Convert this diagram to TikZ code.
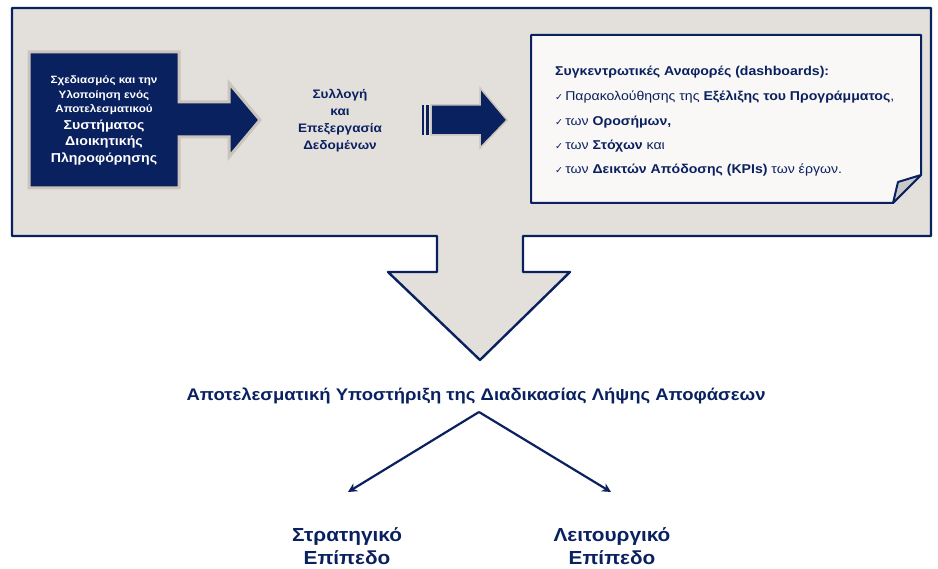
\documentclass[tikz,border=0pt]{standalone}
\usepackage{fontspec}
\setmainfont[FakeStretch=1.1]{Liberation Sans}
\newfontfamily\dejavu{DejaVu Sans}
\usetikzlibrary{arrows.meta}
\definecolor{navy}{RGB}{10,33,96}
\definecolor{panelgray}{RGB}{227,224,220}
\definecolor{tanedge}{RGB}{203,196,188}
\definecolor{notefill}{RGB}{249,248,246}
\definecolor{flapgray}{RGB}{200,200,200}
\tikzset{
  outline/.style={draw=navy,line width=2.4pt,line join=round},
  whitetxt/.style={text=white,font=\bfseries\fontsize{10.6}{12}\selectfont,inner sep=0pt},
  whitebig/.style={text=white,font=\bfseries\fontsize{12.9}{15}\selectfont,inner sep=0pt},
  navytxt/.style={text=navy,font=\bfseries\fontsize{12.3}{17}\selectfont,align=center,inner sep=0pt},
  notetxt/.style={text=navy,font=\fontsize{12.8}{14}\selectfont,anchor=west,inner sep=0pt},
  maintxt/.style={text=navy,font=\bfseries\fontsize{16.8}{19}\selectfont,inner sep=0pt},
  leveltxt/.style={text=navy,font=\bfseries\fontsize{18.9}{23}\selectfont,align=center,inner sep=0pt},
  branch/.style={draw=navy,line width=2.2pt,-{Stealth[length=9pt,width=9pt]}},
}
\newcommand{\chk}{{\dejavu\fontsize{9.5}{11}\selectfont ✓}\,}
\begin{document}
\begin{tikzpicture}[x=1pt,y=-1pt]
\useasboundingbox (0,0) rectangle (938,569);
% big gray panel with down arrow
\path[outline,fill=panelgray] (12,8) -- (931,8) -- (931,236) -- (523,236) -- (523,272) -- (570,272)
  -- (480,360) -- (388,272) -- (437,272) -- (437,236) -- (12,236) -- cycle;
% dark box with arrow
\path[draw=tanedge,line width=3pt,fill=navy,line join=miter]
  (29,52) -- (179,52) -- (179,102) -- (229,102) -- (229,83) -- (260,120) -- (229,157) -- (229,137)
  -- (179,137) -- (179,188) -- (29,188) -- cycle;
\node[whitetxt] (b1) at (104,81) {Σχεδιασμός και την};
\node[whitetxt] (b2) at (104,96) {Υλοποίηση ενός};
\node[whitetxt] (b3) at (104,110) {Αποτελεσματικού};
\node[whitebig] (b4) at (104,126) {Συστήματος};
\node[whitebig] (b5) at (104,142) {Διοικητικής};
\node[whitebig] (b6) at (104,159) {Πληροφόρησης};
% middle text
\node[navytxt] (mid) at (340,121) {Συλλογή\\και\\Επεξεργασία\\Δεδομένων};
% striped arrow
\fill[navy] (421.5,105) rectangle (423.5,135);
\fill[navy] (425.8,105) rectangle (429.3,135);
\path[draw=tanedge,line width=1.5pt,fill=navy] (431,105) -- (480,105) -- (480,88) -- (507,120) -- (480,148)
  -- (480,135) -- (431,135) -- cycle;
% note
\path[draw=navy,line width=2pt,fill=notefill,line join=round]
  (531,35) -- (921,35) -- (921,175) -- (893,203) -- (531,203) -- cycle;
\path[draw=navy,line width=2pt,fill=flapgray,line join=round] (893,203) -- (898,182) -- (921,175) -- cycle;
\node[notetxt] (h) at (555,72) {\textbf{Συγκεντρωτικές Αναφορές (dashboards):}};
\node[notetxt] (n1) at (555,97) {\chk Παρακολούθησης της \textbf{Εξέλιξης του Προγράμματος},};
\node[notetxt] (n2) at (555,122) {\chk των \textbf{Οροσήμων,}};
\node[notetxt] (n3) at (555,146) {\chk των \textbf{Στόχων} και};
\node[notetxt] (n4) at (555,170) {\chk των \textbf{Δεικτών Απόδοσης (KPIs)} των έργων.};
% main text
\node[maintxt] (main) at (476,396) {Αποτελεσματική Υποστήριξη της Διαδικασίας Λήψης Αποφάσεων};
\coordinate (apex) at (479,412);
\coordinate (lend) at (348,492);
\coordinate (rend) at (611,492);
\draw[branch] (apex) -- (lend);
\draw[branch] (apex) -- (rend);
\node[leveltxt] (strat) at (347,546) {Στρατηγικό\\Επίπεδο};
\node[leveltxt] (oper) at (612,546) {Λειτουργικό\\Επίπεδο};
\end{tikzpicture}
\end{document}
